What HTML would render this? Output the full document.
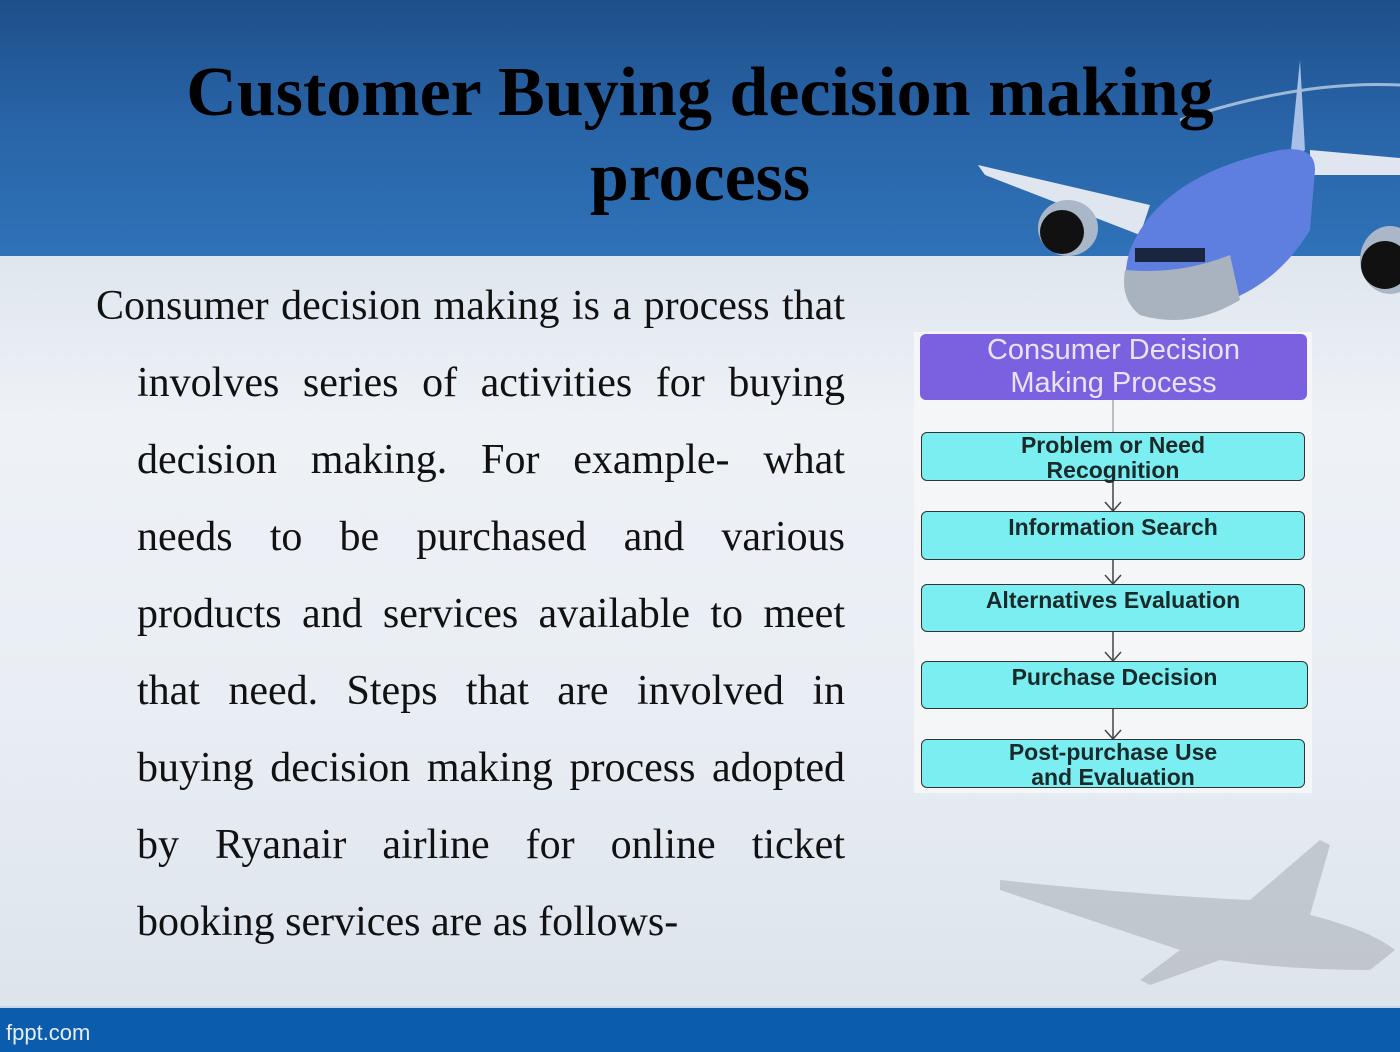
<!DOCTYPE html>
<html><head><meta charset="utf-8">
<style>
html,body{margin:0;padding:0}
body{width:1400px;height:1050px;position:relative;overflow:hidden;font-family:"Liberation Serif",serif;
background:linear-gradient(180deg,#dfe6ee 255px,#eef2f7 420px,#e9eef4 700px,#dde4ec 1005px);}
#hdr{position:absolute;left:0;top:0;width:1400px;height:256px;
background:linear-gradient(180deg,#1d4f8a 0%,#2863a6 45%,#2f72b8 100%);}
#ftr{position:absolute;left:0;top:1006px;width:1400px;height:44px;background:#0b5cac;border-top:2px solid #c9d6e6;}
#ftr span{position:absolute;left:6px;top:12px;font-family:"Liberation Sans",sans-serif;font-size:22px;color:#e6eef8}
#title{position:absolute;left:0;width:1400px;top:50px;text-align:center;font-weight:bold;font-size:70px;line-height:85px;color:#000}
#para{position:absolute;left:96px;top:268px;width:749px;font-size:42px;line-height:77px;color:#111;}
#para div{text-align:justify;text-align-last:justify;white-space:nowrap;padding-left:41px}
#para div.f{padding-left:0}
#para div.l{text-align-last:left}
#dg{position:absolute;left:914px;top:332px;width:398px;height:461px;background:#f4f6f8}
.b{position:absolute;left:7px;width:384px;border:1.5px solid #333;border-radius:6px;background:#7aeef0;
font-family:"Liberation Sans",sans-serif;font-weight:bold;color:#1a2a2a;text-align:center;font-size:23px;line-height:26px;box-sizing:border-box}
</style></head><body>
<div id="hdr"></div>
<svg style="position:absolute;left:0;top:0" width="1400" height="340">
 <path d="M1180 120 Q1300 80 1400 85" stroke="#cfdff0" stroke-width="3" fill="none" opacity="0.7"/>
 <polygon points="978,165 1150,205 1140,235 985,175" fill="#dfe6ef"/>
 <polygon points="1300,60 1305,150 1290,160" fill="#a8c0e8"/>
 <polygon points="1310,150 1400,158 1400,175 1310,175" fill="#dfe6ef"/>
 <ellipse cx="1068" cy="228" rx="30" ry="28" fill="#aab7c8"/>
 <circle cx="1062" cy="232" r="22" fill="#111"/>
 <ellipse cx="1390" cy="260" rx="30" ry="34" fill="#aab7c8"/>
 <circle cx="1385" cy="265" r="24" fill="#111"/>
 <path d="M1130 250 Q1160 175 1280 150 Q1315 145 1315 170 L1310 230 Q1280 280 1230 300 Q1180 325 1140 310 Q1118 290 1130 250Z" fill="#5f7fe0"/>
 <path d="M1125 270 Q1180 275 1230 255 L1240 300 Q1190 330 1140 315 Q1120 300 1125 270Z" fill="#a9b3bf"/>
 <rect x="1135" y="248" width="70" height="14" fill="#1a2540"/>
</svg>
<svg style="position:absolute;left:990px;top:820px" width="410" height="180">
 <path d="M10 60 Q150 75 260 80 L330 20 L340 25 L320 95 Q380 110 405 130 L380 150 Q300 150 230 140 L160 165 L150 160 L190 130 Q100 100 10 70Z" fill="#a7adb4" opacity="0.55"/>
</svg>
<div id="title">Customer Buying decision making<br>process</div>
<div id="para">
<div class="f">Consumer decision making is a process that</div>
<div>involves series of activities for buying</div>
<div>decision making. For example- what</div>
<div>needs to be purchased and various</div>
<div>products and services available to meet</div>
<div>that need. Steps that are involved in</div>
<div>buying decision making process adopted</div>
<div>by Ryanair airline for online ticket</div>
<div class="l">booking services are as follows-</div>
</div>
<div id="dg">
 <div class="b" style="top:2px;left:6px;width:387px;height:66px;background:#7b60e0;border:none;color:#e8e4f8;font-weight:normal;font-size:29px;line-height:33px">Consumer Decision<br>Making Process</div>
 <svg style="position:absolute;left:0;top:0" width="398" height="461">
  <g stroke="#444" stroke-width="1.5" fill="none">
   <line x1="199" y1="68" x2="199" y2="100" stroke="#aaa"/>
   <line x1="199" y1="149" x2="199" y2="179"/><polyline points="191,170 199,179 207,170"/>
   <line x1="199" y1="228" x2="199" y2="252"/><polyline points="191,243 199,252 207,243"/>
   <line x1="199" y1="300" x2="199" y2="329"/><polyline points="191,320 199,329 207,320"/>
   <line x1="199" y1="377" x2="199" y2="407"/><polyline points="191,398 199,407 207,398"/>
  </g>
 </svg>
 <div class="b" style="top:100px;height:49px;line-height:25px">Problem or Need<br>Recognition</div>
 <div class="b" style="top:179px;height:49px;line-height:30px">Information Search</div>
 <div class="b" style="top:252px;height:48px;line-height:30px">Alternatives Evaluation</div>
 <div class="b" style="top:329px;height:48px;line-height:30px;width:387px">Purchase Decision</div>
 <div class="b" style="top:407px;height:49px;line-height:25px">Post-purchase Use<br>and Evaluation</div>
</div>
<div id="ftr"><span>fppt.com</span></div>
</body></html>
